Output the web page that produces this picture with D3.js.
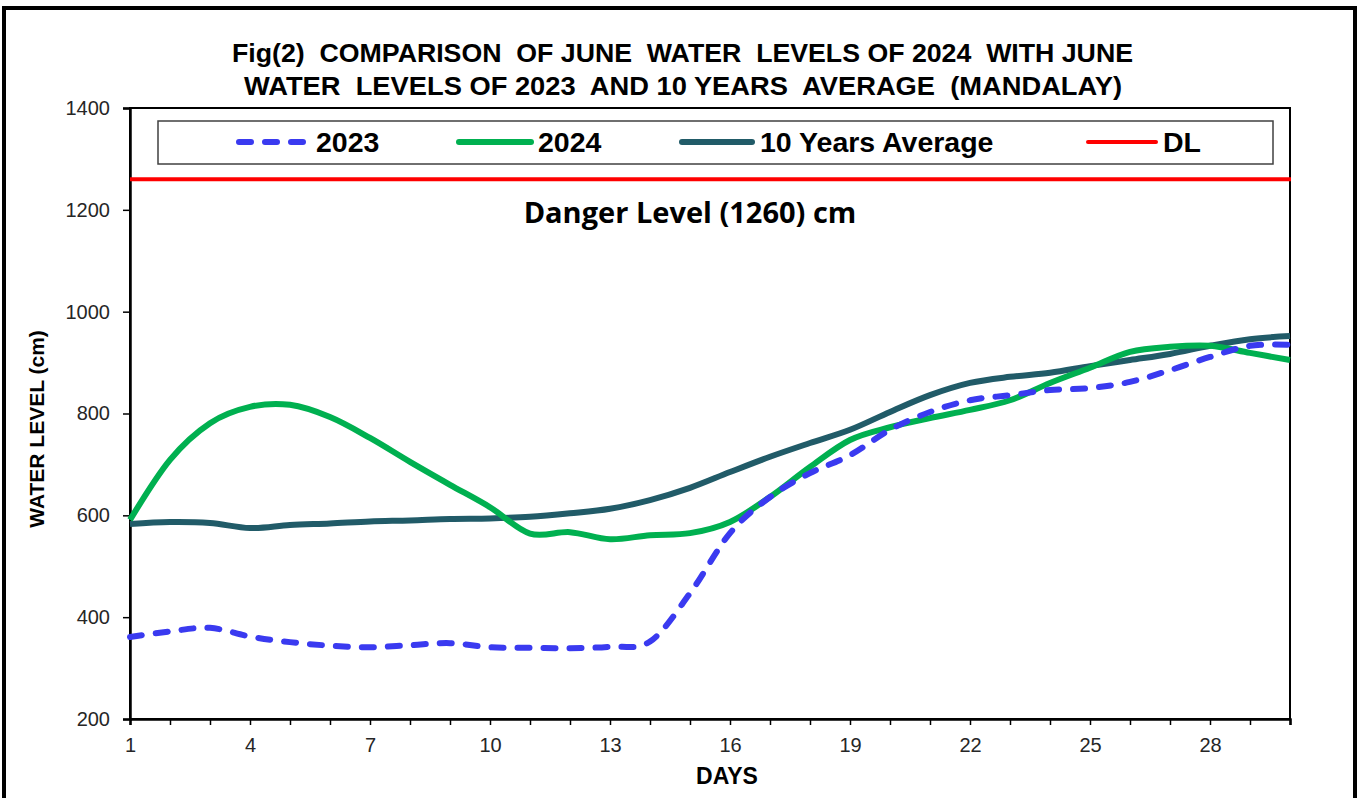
<!DOCTYPE html>
<html>
<head>
<meta charset="utf-8">
<script src="https://cdn.jsdelivr.net/npm/d3@7"></script>
<style>
  html, body { margin: 0; padding: 0; background: #fff; }
  svg { display: block; }
</style>
</head>
<body>
<svg id="chart" width="1367" height="798"></svg>
<script>
// ---- data ----
const days = [1,2,3,4,5,6,7,8,9,10,11,12,13,14,15,16,17,18,19,20,21,22,23,24,25,26,27,28,29,30];
const level2023 = [361,372,379,362,351,344,341,345,349,341,340,339,342,352,447,565,636,683,718,768,803,826,836,846,850,862,885,911,933,935];
const level2024 = [591,709,781,813,817,793,752,705,660,616,564,567,553,561,565,587,636,695,748,773,791,807,826,860,890,921,931,933,919,905];
const avg10 = [583,587,585,575,581,584,588,590,593,594,597,604,613,630,654,685,715,742,768,803,836,860,872,880,893,905,917,933,946,952];
const dangerLevel = 1260;
const yTicks = [200,400,600,800,1000,1200,1400];
const xLabelDays = [1,4,7,10,13,16,19,22,25,28];
const seriesNames = ["2023","2024","10 Years Average","DL"];
const titleLines = ["Fig(2)  COMPARISON  OF JUNE  WATER  LEVELS OF 2024  WITH JUNE",
                    "WATER  LEVELS OF 2023  AND 10 YEARS  AVERAGE  (MANDALAY)"];

// ---- layout ----
const svg = d3.select("#chart");
const L = 130, R = 1290, T = 108, B = 719;
const x = d3.scaleLinear().domain([1,30]).range([L,R]);
const y = d3.scaleLinear().domain([200,1400]).range([B,T]);
const font = "'Liberation Sans', Arial, sans-serif";

// outer frame
svg.append("rect").attr("x",4).attr("y",8).attr("width",1351).attr("height",800)
  .attr("fill","#fff").attr("stroke","#000").attr("stroke-width",4);

// title
const narrow = "'Liberation Sans Narrow', 'Arial Narrow', 'Liberation Sans', Arial, sans-serif";
const tl = [{t:titleLines[0], y:62, x0:232, w:901},{t:titleLines[1], y:95, x0:244, w:878}];
tl.forEach(d => {
  svg.append("text").attr("x",d.x0).attr("y",d.y)
    .attr("font-family",narrow).attr("font-weight","bold").attr("font-size",26)
    .attr("textLength",d.w).attr("lengthAdjust","spacingAndGlyphs")
    .attr("fill","#000").style("white-space","pre").text(d.t);
});

// plot border (top & right)
svg.append("rect").attr("x",L).attr("y",T).attr("width",R-L).attr("height",B-T)
  .attr("fill","none").attr("stroke","#000").attr("stroke-width",2);

// axes
const yAxis = svg.append("g").attr("transform",`translate(${L},0)`)
  .call(d3.axisLeft(y).tickValues(yTicks).tickSize(7).tickPadding(13).tickFormat(d3.format("d")));
const xAxis = svg.append("g").attr("transform",`translate(0,${B})`)
  .call(d3.axisBottom(x).tickValues(days).tickSize(6).tickPadding(13)
    .tickFormat(d => xLabelDays.includes(d) ? d : ""));
[yAxis,xAxis].forEach(g => {
  g.select(".domain").attr("stroke","#000").attr("stroke-width",2.5);
  g.selectAll(".tick line").attr("stroke","#000").attr("stroke-width",1.5);
  g.selectAll(".tick text").attr("font-family",font).attr("font-size",20).attr("fill","#262626");
});

// axis titles
svg.append("text").attr("transform","translate(44,429) rotate(-90)")
  .attr("text-anchor","middle").attr("font-family",font).attr("font-weight","bold")
  .attr("font-size",21).attr("fill","#000").text("WATER LEVEL (cm)");
svg.append("text").attr("x",727).attr("y",784).attr("text-anchor","middle")
  .attr("font-family",font).attr("font-weight","bold").attr("font-size",23)
  .attr("fill","#000").text("DAYS");

// danger line
svg.append("line").attr("x1",L).attr("x2",R+1).attr("y1",y(dangerLevel)).attr("y2",y(dangerLevel))
  .attr("stroke","#ff0000").attr("stroke-width",4);
svg.append("text").attr("x",690).attr("y",223).attr("text-anchor","middle")
  .attr("font-family","'Open Sans', 'Noto Sans', sans-serif").attr("font-weight","bold")
  .attr("font-size",29).attr("fill","#000").text("Danger Level (1260) cm");

// series
const line = d3.line().x((d,i) => x(days[i])).y(d => y(d)).curve(d3.curveCatmullRom.alpha(0));
const series = [
  {name:seriesNames[0], vals:level2023, color:"#3A3AF0", dash:"12 14"},
  {name:seriesNames[1], vals:level2024, color:"#00B050", dash:null},
  {name:seriesNames[2], vals:avg10, color:"#215B68", dash:null}
];
const drawOrder = [series[2], series[1], series[0]];
drawOrder.forEach(s => {
  svg.append("path").datum(s.vals).attr("d",line)
    .attr("fill","none").attr("stroke",s.color).attr("stroke-width",6)
    .attr("stroke-linecap", s.dash ? "round" : "butt").attr("stroke-linejoin","round")
    .attr("stroke-dasharray", s.dash);
});

// legend
svg.append("rect").attr("x",158).attr("y",121).attr("width",1115).attr("height",43)
  .attr("fill","#fff").attr("stroke","#404040").attr("stroke-width",1.5);
const leg = [
  {name:seriesNames[0], color:"#3A3AF0", dash:"12 14", x1:239, x2:304, tx:316, w:6},
  {name:seriesNames[1], color:"#00B050", dash:null, x1:459, x2:531, tx:538, w:6},
  {name:seriesNames[2], color:"#215B68", dash:null, x1:682, x2:752, tx:760, w:6},
  {name:seriesNames[3], color:"#ff0000", dash:null, x1:1088, x2:1156, tx:1163, w:4}
];
leg.forEach(d => {
  svg.append("line").attr("x1",d.x1).attr("x2",d.x2).attr("y1",142).attr("y2",142)
    .attr("stroke",d.color).attr("stroke-width",d.w).attr("stroke-linecap","round")
    .attr("stroke-dasharray",d.dash);
  svg.append("text").attr("x",d.tx).attr("y",152).attr("font-family",font)
    .attr("font-weight","bold").attr("font-size",28.5).attr("fill","#000").text(d.name);
});
</script>
</body>
</html>
